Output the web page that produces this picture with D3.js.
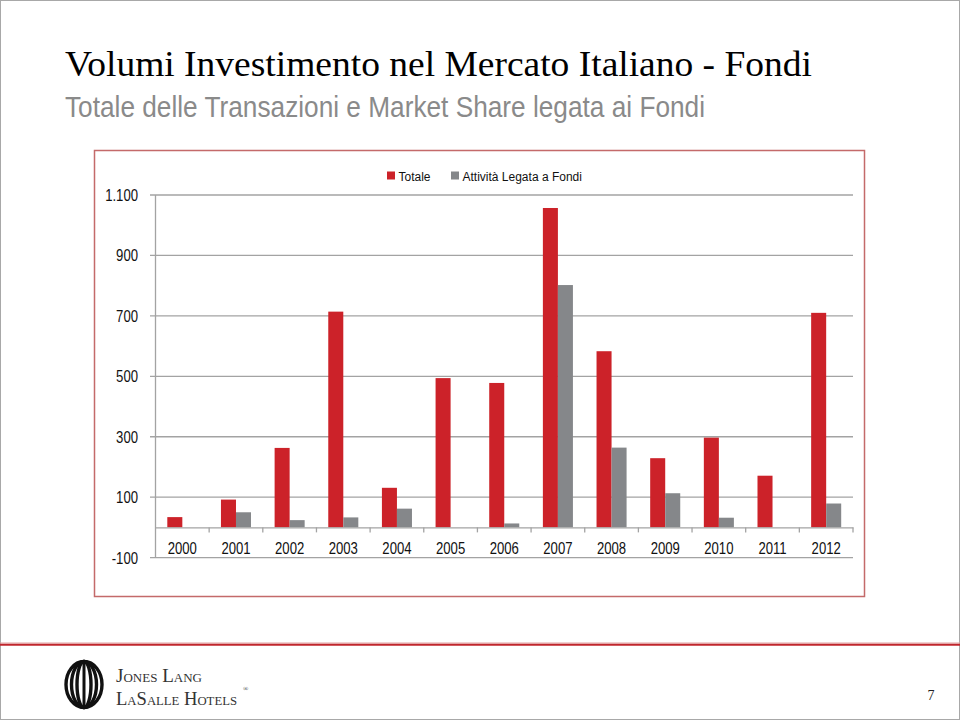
<!DOCTYPE html>
<html>
<head>
<meta charset="utf-8">
<script src="https://cdn.jsdelivr.net/npm/d3@7"></script>
<style>
  html, body { margin: 0; padding: 0; background: #fff; }
  svg { display: block; }
</style>
</head>
<body>
<svg id="chart" width="960" height="720"></svg>
<script>
// ---- Data ----
const years = ["2000","2001","2002","2003","2004","2005","2006","2007","2008","2009","2010","2011","2012"];
const totale = [34, 92, 263, 714, 131, 494, 478, 1057, 583, 229, 297, 171, 710];
const fondi  = [0, 50, 24, 33, 62, 0, 13, 802, 264, 113, 32, 0, 79];
const seriesNames = ["Totale", "Attività Legata a Fondi"];
const yTicks = [-100, 100, 300, 500, 700, 900, 1100];
const titleText = "Volumi Investimento nel Mercato Italiano - Fondi";
const subtitleText = "Totale delle Transazioni e Market Share legata ai Fondi";

const colors = ["#cc2229", "#85878a"];

const svg = d3.select("#chart");

// slide frame
svg.append("rect").attr("x", 0.5).attr("y", 0.5).attr("width", 959).attr("height", 719)
  .attr("fill", "none").attr("stroke", "#a8a8a8").attr("stroke-width", 1);

// titles
svg.append("text").attr("x", 65).attr("y", 76)
  .attr("font-family", "'Liberation Serif', 'Times New Roman', serif")
  .attr("font-size", 35).attr("fill", "#000")
  .attr("textLength", 747).attr("lengthAdjust", "spacingAndGlyphs")
  .text(titleText);
svg.append("text").attr("x", 65).attr("y", 117)
  .attr("font-family", "'Liberation Sans', Arial, sans-serif")
  .attr("font-size", 29).attr("fill", "#8a8a8a")
  .attr("textLength", 640).attr("lengthAdjust", "spacingAndGlyphs")
  .text(subtitleText);

// chart frame
svg.append("rect").attr("x", 94.5).attr("y", 150.5).attr("width", 770).attr("height", 446)
  .attr("fill", "#fff").attr("stroke", "#c46a6a").attr("stroke-width", 1.5);

// scales
const x0 = d3.scaleBand().domain(years).range([155.5, 853]).paddingInner(0).paddingOuter(0);
const x1 = d3.scaleBand().domain(seriesNames)
  .range([x0.bandwidth() * 0.22, x0.bandwidth() * 0.78]).padding(0);
const y = d3.scaleLinear().domain([-100, 1100]).range([557.6, 195]);

const fmtPos = d3.formatLocale({decimal: ",", thousands: ".", grouping: [3], currency: ["€", ""]}).format(",");
const fmt = d => (d < 0 ? "-" : "") + fmtPos(Math.abs(d));

// gridlines
const gridG = svg.append("g");
gridG.selectAll("line").data(yTicks).join("line")
  .attr("x1", 150).attr("x2", 853)
  .attr("y1", d => y(d)).attr("y2", d => y(d))
  .attr("stroke", "#a3a3a3").attr("stroke-width", 1.3);

// y axis line
svg.append("line").attr("x1", 155.5).attr("x2", 155.5).attr("y1", y(1100)).attr("y2", y(-100))
  .attr("stroke", "#a3a3a3").attr("stroke-width", 1.3);

// narrow text emulation
const sans = "'Liberation Sans', Arial, sans-serif";
const narrow = 0.82;

// y labels
svg.append("g").selectAll("text").data(yTicks).join("text")
  .attr("transform", d => `translate(138,${y(d) + 6}) scale(${narrow},1)`)
  .attr("text-anchor", "end")
  .attr("font-family", sans).attr("font-size", 16).attr("fill", "#111")
  .text(d => fmt(d));

// bars
const data = years.map((yr, i) => ({year: yr, vals: [totale[i], fondi[i]]}));
const groups = svg.append("g").selectAll("g").data(data).join("g")
  .attr("transform", d => `translate(${x0(d.year)},0)`);
groups.selectAll("rect").data(d => d.vals.map((v, j) => ({v, s: seriesNames[j], j})))
  .join("rect")
  .attr("x", d => x1(d.s))
  .attr("width", x1.bandwidth())
  .attr("y", d => y(Math.max(0, d.v)))
  .attr("height", d => Math.abs(y(0) - y(d.v)))
  .attr("fill", d => colors[d.j]);

// category axis at zero
const xAxis = d3.axisBottom(x0).tickSize(0).tickFormat("");
const xg = svg.append("g").attr("transform", `translate(0,${y(0)})`).call(xAxis);
xg.select(".domain").attr("stroke", "#a3a3a3").attr("stroke-width", 1.3);
// boundary ticks
const bounds = years.map(d => x0(d)).concat([x0.range()[1]]).slice(1);
svg.append("g").selectAll("line").data(bounds).join("line")
  .attr("x1", d => d).attr("x2", d => d)
  .attr("y1", y(0)).attr("y2", y(0) + 5)
  .attr("stroke", "#a3a3a3").attr("stroke-width", 1.3);

// category labels
svg.append("g").selectAll("text").data(years).join("text")
  .attr("transform", d => `translate(${x0(d) + x0.bandwidth() / 2},554) scale(${narrow},1)`)
  .attr("text-anchor", "middle")
  .attr("font-family", sans).attr("font-size", 16).attr("fill", "#111")
  .text(d => d);

// legend
const legend = svg.append("g");
const legendItems = [{name: seriesNames[0], x: 387}, {name: seriesNames[1], x: 451}];
legendItems.forEach((it, i) => {
  legend.append("rect").attr("x", it.x).attr("y", 171.5).attr("width", 8).attr("height", 8)
    .attr("fill", colors[i]);
  legend.append("text").attr("x", it.x + 11.5).attr("y", 180.5)
    .attr("font-family", sans).attr("font-size", 12)
    .attr("fill", "#111").text(it.name);
});

// footer line
svg.append("line").attr("x1", 0).attr("x2", 960).attr("y1", 643).attr("y2", 643)
  .attr("stroke", "#e0a0a0").attr("stroke-width", 1);
svg.append("line").attr("x1", 0).attr("x2", 960).attr("y1", 644.8).attr("y2", 644.8)
  .attr("stroke", "#c0262d").attr("stroke-width", 2);

// logo (stylised)
const logo = svg.append("g").attr("transform", "translate(84,684.5)");
[[18, 23], [12.5, 23], [7, 23]].forEach(([rx, ry]) => {
  logo.append("ellipse").attr("rx", rx).attr("ry", ry)
    .attr("fill", "none").attr("stroke", "#111").attr("stroke-width", 3.4);
});
logo.append("line").attr("x1", 0).attr("x2", 0).attr("y1", -23).attr("y2", 23)
  .attr("stroke", "#111").attr("stroke-width", 3);

const serif = "'Liberation Serif', 'Times New Roman', serif";
svg.append("text").attr("x", 116).attr("y", 682)
  .attr("font-family", serif).attr("font-size", 19).attr("font-variant", "small-caps")
  .attr("fill", "#333").attr("textLength", 86).attr("lengthAdjust", "spacingAndGlyphs")
  .text("Jones Lang");
svg.append("text").attr("x", 116).attr("y", 705)
  .attr("font-family", serif).attr("font-size", 19).attr("font-variant", "small-caps")
  .attr("fill", "#333").attr("textLength", 121).attr("lengthAdjust", "spacingAndGlyphs")
  .text("LaSalle Hotels");
svg.append("text").attr("x", 243).attr("y", 691)
  .attr("font-family", serif).attr("font-size", 7).attr("fill", "#333").text("®");

svg.append("text").attr("x", 931).attr("y", 700).attr("text-anchor", "middle")
  .attr("font-family", serif).attr("font-size", 14).attr("fill", "#222").text("7");
</script>
</body>
</html>
